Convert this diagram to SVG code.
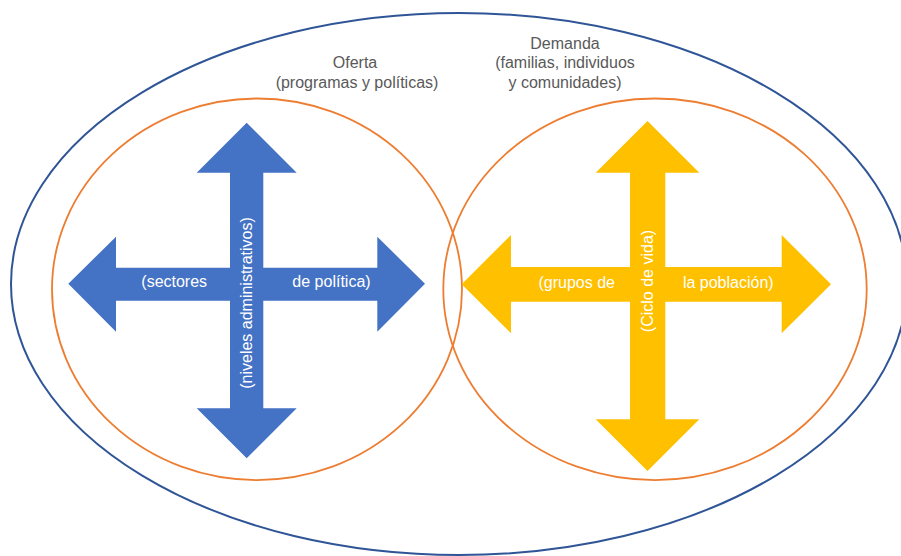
<svg xmlns="http://www.w3.org/2000/svg" width="901" height="556" viewBox="0 0 901 556">
  <style>
    .frame { fill: none; stroke: #2F5597; stroke-width: 2; }
    .ring { fill: none; stroke: #ED7D31; stroke-width: 1.8; }
    .blue { fill: #4472C4; }
    .gold { fill: #FFC000; }
    .title { font-family: "Liberation Sans", Arial, sans-serif; font-size: 16px; fill: #595959; text-anchor: middle; }
    .inner { font-family: "Liberation Sans", Arial, sans-serif; font-size: 16px; fill: #FFFFFF; text-anchor: middle; }
  </style>
  <rect width="901" height="556" fill="#FFFFFF"/>

  <!-- outer boundary -->
  <g id="system">
    <ellipse class="frame" cx="459" cy="284" rx="448" ry="271"/>
  </g>

  <!-- supply side -->
  <g id="oferta">
    <ellipse class="ring" cx="257" cy="289.3" rx="205" ry="190.8"/>
    <text class="title" x="355" y="68">Oferta</text>
    <text class="title" x="357" y="87.5">(programas y políticas)</text>
  </g>

  <!-- demand side -->
  <g id="demanda">
    <ellipse class="ring" cx="655" cy="289.3" rx="211.7" ry="190.8"/>
    <text class="title" x="565" y="48.5">Demanda</text>
    <text class="title" x="565" y="68">(familias, individuos</text>
    <text class="title" x="565" y="87.5">y comunidades)</text>
  </g>

  <!-- four-way arrow: sectors / administrative levels -->
  <g id="cruz-oferta">
    <polygon class="blue" points="246.7,122.7 296.7,172.7 263.3,172.7 263.3,267.7 377.3,267.7 377.3,236.7 425,283.8 377.3,331.7 377.3,300.7 263.3,300.7 263.3,408.3 296.7,408.3 246.7,458.3 196.7,408.3 230,408.3 230,300.7 116,300.7 116,331.7 68.3,283.8 116,236.7 116,267.7 230,267.7 230,172.7 196.7,172.7"/>
    <text class="inner" x="174.2" y="286.5">(sectores</text>
    <text class="inner" x="331.5" y="286.5">de política)</text>
    <text class="inner" transform="translate(252,303) rotate(-90)">(niveles administrativos)</text>
  </g>

  <!-- four-way arrow: population groups / life cycle -->
  <g id="cruz-demanda">
    <polygon class="gold" points="647.5,121 699.3,172.7 665.3,172.7 665.3,267 781.7,267 781.7,235 831,284.2 781.7,333.3 781.7,301.7 665.3,301.7 665.3,419.3 699.3,419.3 647.5,471 595.7,419.3 630,419.3 630,301.7 511,301.7 511,333.3 461.7,284.2 511,235 511,267 630,267 630,172.7 595.7,172.7"/>
    <text class="inner" x="576.7" y="288">(grupos de</text>
    <text class="inner" x="728.3" y="288">la población)</text>
    <text class="inner" transform="translate(652.5,281) rotate(-90)">(Ciclo de vida)</text>
  </g>

  <g id="connectors"/>
</svg>
